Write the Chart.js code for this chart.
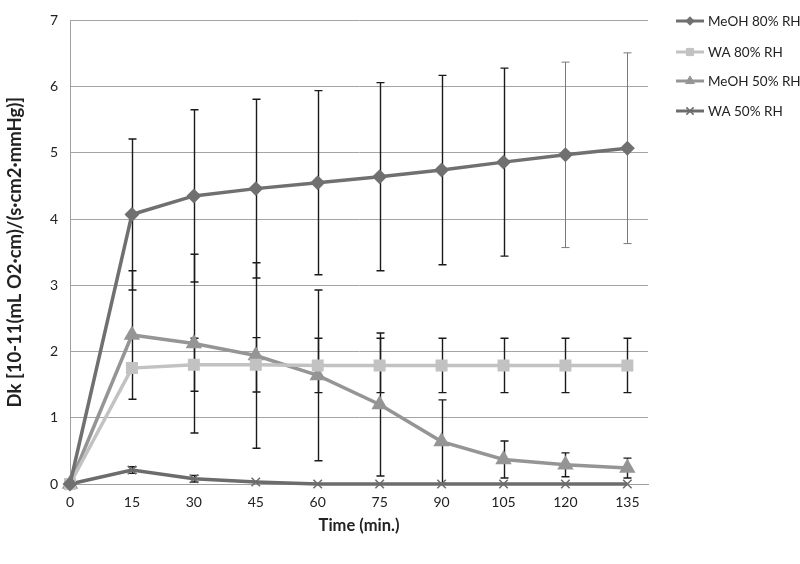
<!DOCTYPE html>
<html>
<head>
<meta charset="utf-8">
<script src="https://cdn.jsdelivr.net/npm/chart.js@4/dist/chart.umd.min.js"></script>
<style>
  html, body { margin: 0; padding: 0; background: #fff; }
  #wrap { width: 800px; height: 564px; }
</style>
</head>
<body>
<div id="wrap"><canvas id="dkChart" width="800" height="564"></canvas></div>
<script>
// data
const times = [0, 15, 30, 45, 60, 75, 90, 105, 120, 135];
const yTicks = [0, 1, 2, 3, 4, 5, 6, 7];

const meoh80 = [0, 4.07, 4.35, 4.46, 4.55, 4.64, 4.74, 4.86, 4.97, 5.07];
const meoh80Err = [0, 1.14, 1.30, 1.35, 1.39, 1.42, 1.43, 1.42, 1.40, 1.44];

const wa80 = [0, 1.75, 1.80, 1.80, 1.79, 1.79, 1.79, 1.79, 1.79, 1.79];
const wa80Err = [0, 0, 0.40, 0.41, 0.41, 0.41, 0.41, 0.41, 0.41, 0.41];

const meoh50 = [0, 2.25, 2.12, 1.94, 1.64, 1.20, 0.64, 0.37, 0.29, 0.24];
const meoh50Err = [0, 0.97, 1.35, 1.40, 1.29, 1.08, 0.63, 0.28, 0.18, 0.15];

const wa50 = [0, 0.21, 0.08, 0.03, 0, 0, 0, 0, 0, 0];
const wa50Err = [0, 0.05, 0.05, 0, 0, 0, 0, 0, 0, 0];

const FONT = 'Lato, "Open Sans", sans-serif';

function pts(vals) {
  return vals.map((v, i) => ({ x: times[i], y: v }));
}

// ✅ Excel style error bars, drawn through the chart scales
const errorBars = {
  id: 'errorBars',
  beforeDatasetsDraw(chart) {
    const ctx = chart.ctx;
    const xs = chart.scales.x;
    const ys = chart.scales.y;
    ctx.save();
    chart.data.datasets.forEach(ds => {
      if (!ds.errors) return;
      ds.data.forEach((p, i) => {
        const e = ds.errors[i];
        if (!e) return;
        const px = Math.round(xs.getPixelForValue(p.x)) + 0.5;
        const top = ys.getPixelForValue(p.y + e);
        const bot = ys.getPixelForValue(Math.max(p.y - e, 0));
        const grey = ds.greyErr && ds.greyErr.includes(i);
        ctx.strokeStyle = grey ? '#7a7a7a' : '#1a1a1a';
        ctx.lineWidth = grey ? 1 : 1.4;
        ctx.beginPath();
        ctx.moveTo(px, top); ctx.lineTo(px, bot);
        ctx.moveTo(px - 4, top); ctx.lineTo(px + 4, top);
        ctx.moveTo(px - 4, bot); ctx.lineTo(px + 4, bot);
        ctx.stroke();
      });
    });
    ctx.restore();
  }
};

// ✅ legend on the right with line + marker
const sideLegend = {
  id: 'sideLegend',
  afterDraw(chart) {
    const ctx = chart.ctx;
    const rowY = [21, 52, 81, 111];
    ctx.save();
    chart.data.datasets.forEach((ds, i) => {
      const y = rowY[i];
      ctx.strokeStyle = ds.borderColor;
      ctx.lineWidth = 3;
      ctx.beginPath();
      ctx.moveTo(676, y); ctx.lineTo(704, y);
      ctx.stroke();
      ctx.fillStyle = ds.pointBackgroundColor;
      ctx.strokeStyle = ds.pointBorderColor;
      ctx.lineWidth = ds.pointStyle === 'crossRot' ? 1.5 : 1;
      Chart.helpers.drawPoint(ctx, {
        pointStyle: ds.pointStyle,
        radius: ds.pointRadius * 0.85,
        borderWidth: ctx.lineWidth,
        rotation: 0
      }, 690, y);
      ctx.fillStyle = '#222';
      ctx.font = '13.5px ' + FONT;
      ctx.textBaseline = 'middle';
      ctx.fillText(ds.label, 708, y + 1);
    });
    ctx.restore();
  }
};

new Chart(document.getElementById('dkChart').getContext('2d'), {
  type: 'line',
  data: {
    datasets: [
      {
        label: 'MeOH 80% RH',
        data: pts(meoh80),
        errors: meoh80Err,
        greyErr: [8, 9],
        borderColor: '#707070',
        backgroundColor: '#707070',
        pointBackgroundColor: '#707070',
        pointBorderColor: '#707070',
        pointStyle: 'rectRot',
        pointRadius: 5,
        borderWidth: 3.5,
        clip: false
      },
      {
        label: 'WA 80% RH',
        data: pts(wa80),
        errors: wa80Err,
        borderColor: '#c2c2c2',
        backgroundColor: '#c2c2c2',
        pointBackgroundColor: '#c2c2c2',
        pointBorderColor: '#c2c2c2',
        pointStyle: 'rect',
        pointRadius: 6,
        borderWidth: 3.5,
        clip: false
      },
      {
        label: 'MeOH 50% RH',
        data: pts(meoh50),
        errors: meoh50Err,
        borderColor: '#959595',
        backgroundColor: '#959595',
        pointBackgroundColor: '#959595',
        pointBorderColor: '#959595',
        pointStyle: 'triangle',
        pointRadius: 6,
        borderWidth: 3.5,
        clip: false
      },
      {
        label: 'WA 50% RH',
        data: pts(wa50),
        errors: wa50Err,
        borderColor: '#6c6c6c',
        backgroundColor: '#6c6c6c',
        pointBackgroundColor: '#6c6c6c',
        pointBorderColor: '#6c6c6c',
        pointStyle: 'crossRot',
        pointRadius: 6,
        pointBorderWidth: 1.5,
        borderWidth: 3.5,
        clip: false
      }
    ]
  },
  options: {
    responsive: false,
    animation: false,
    layout: { padding: { top: 13, right: 152, left: 0, bottom: 24 } },
    plugins: {
      legend: { display: false },
      tooltip: { enabled: false }
    },
    scales: {
      x: {
        type: 'linear',
        min: 0,
        max: 140,
        afterBuildTicks: scale => { scale.ticks = times.map(v => ({ value: v })); },
        afterFit: scale => { scale.height = 56; },
        grid: { display: false, drawTicks: false },
        border: { color: '#a0a0a0', width: 1 },
        ticks: { color: '#222', font: { family: FONT, size: 14 }, padding: 10, maxRotation: 0 },
        title: {
          display: true,
          text: 'Time (min.)',
          color: '#222',
          font: { family: FONT, size: 16.5, weight: 'bold' },
          padding: { top: 0 }
        }
      },
      y: {
        min: 0,
        max: 7,
        afterBuildTicks: scale => { scale.ticks = yTicks.map(v => ({ value: v })); },
        afterFit: scale => { scale.width = 70; },
        grid: { color: '#a4a4a4', lineWidth: 1, drawTicks: false },
        border: { color: '#a0a0a0', width: 1 },
        ticks: { color: '#222', font: { family: FONT, size: 14 }, padding: 12 },
        title: {
          display: true,
          text: 'Dk [10-11(mL O2·cm)/(s·cm2·mmHg)]',
          color: '#222',
          font: { family: FONT, size: 18.5, weight: 'bold' },
          padding: { bottom: 4 }
        }
      }
    }
  },
  plugins: [errorBars, sideLegend]
});
</script>
</body>
</html>
